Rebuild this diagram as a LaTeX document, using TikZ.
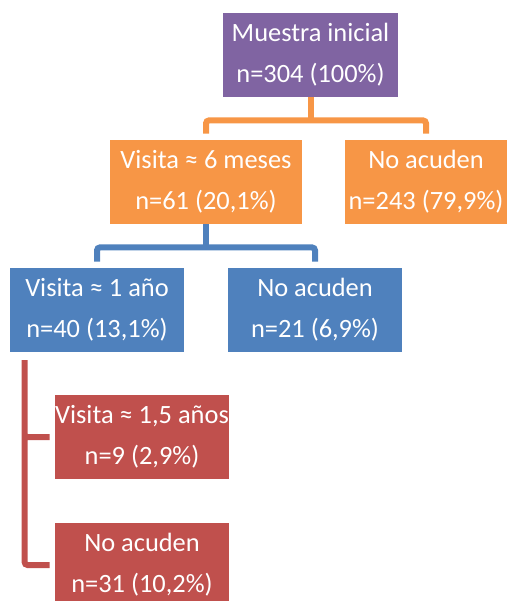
\documentclass[tikz,border=0pt]{standalone}
\usepackage{fontspec}
\setmainfont{Carlito}
\usepackage{tikz}
\usetikzlibrary{positioning}
\definecolor{lila}{HTML}{8064A2}
\definecolor{naranja}{HTML}{F79646}
\definecolor{azul}{HTML}{4F81BD}
\definecolor{rojo}{HTML}{C0504D}

\begin{document}
\begin{tikzpicture}[x=0.5pt,y=-0.5pt,
 every node/.style={font=\fontsize{13.2}{20.5}\selectfont,text=white,align=center,inner sep=0pt,minimum height=42pt},
 caja/.style={fill=#1,minimum width=87pt},
 rama/.style={draw=#1,line width=3pt,rounded corners=1.5pt}]
 \clip (0,0) rectangle (508,601);
 \node[caja=lila,minimum width=87.5pt] (ini) at (310.5,55) {Muestra inicial\\n=304 (100\%)};
 \node[caja=naranja,minimum width=96pt] (v6) at (206,182) {Visita ≈ 6 meses\\n=61 (20,1\%)};
 \node[caja=naranja,minimum width=81pt] (no1) at (426,182) {No acuden\\n=243 (79,9\%)};
 \node[caja=azul] (v1) at (97,310) {Visita ≈ 1 año\\n=40 (13,1\%)};
 \node[caja=azul] (no2) at (315,310) {No acuden\\n=21 (6,9\%)};
 \node[caja=rojo] (v15) at (142,437) {Visita ≈ 1,5 años\\n=9 (2,9\%)};
 \node[caja=rojo] (no3) at (142,565) {No acuden\\n=31 (10,2\%)};
 \draw[rama=naranja] (ini.south) -- ([yshift=-11.5pt]ini.south);
 \draw[rama=naranja] ([yshift=3pt]v6.north) |- ([yshift=-11.5pt]ini.south) -| ([yshift=3pt]no1.north);
 \draw[rama=azul] (v6.south) -- ([yshift=-11.5pt]v6.south);
 \draw[rama=azul] ([yshift=3pt]v1.north) |- ([yshift=-11.5pt]v6.south) -| ([yshift=3pt]no2.north);
 \draw[rama=rojo] ([xshift=-2.5pt]v15.west) -| ([shift={(7.5pt,-3pt)}]v1.south west) |- ([xshift=-2.5pt]no3.west);
\end{tikzpicture}
\end{document}
